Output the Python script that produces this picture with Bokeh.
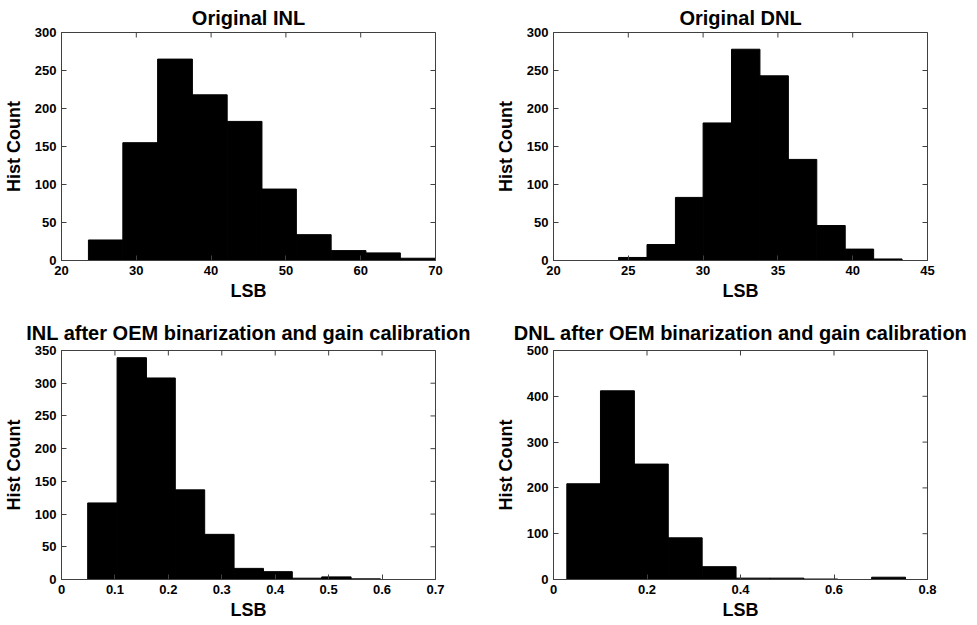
import math
from bokeh.plotting import figure
from bokeh.layouts import gridplot
from bokeh.models import Range1d, FixedTicker
from bokeh.embed import file_html
from bokeh.resources import INLINE

# ---- data ----
inl_orig_edges = [23.6, 28.2, 32.85, 37.5, 42.15, 46.8, 51.4, 56.05, 60.7, 65.3, 69.95]
inl_orig_counts = [27, 155, 265, 218, 183, 94, 34, 13, 10, 3]

dnl_orig_edges = [24.35, 26.25, 28.15, 30.0, 31.9, 33.8, 35.7, 37.6, 39.5, 41.4, 43.3]
dnl_orig_counts = [4, 21, 83, 181, 278, 243, 133, 46, 15, 2]

inl_cal_edges = [0.049, 0.104, 0.159, 0.213, 0.268, 0.323, 0.378, 0.432, 0.487, 0.542, 0.597]
inl_cal_counts = [117, 339, 308, 137, 69, 17, 12, 2, 4, 1]

dnl_cal_edges = [0.0285, 0.1005, 0.173, 0.2455, 0.318, 0.3905, 0.463, 0.5355, 0.608, 0.6805, 0.753]
dnl_cal_counts = [209, 412, 252, 91, 28, 3, 3, 1, 0, 5]

titles = ["Original INL", "Original DNL",
          "INL after OEM binarization and gain calibration",
          "DNL after OEM binarization and gain calibration"]

x_ticks_1 = [20, 30, 40, 50, 60, 70]
x_ticks_2 = [20, 25, 30, 35, 40, 45]
x_ticks_3 = [0, 0.1, 0.2, 0.3, 0.4, 0.5, 0.6, 0.7]
x_labels_3 = ["0", "0.1", "0.2", "0.3", "0.4", "0.5", "0.6", "0.7"]
x_ticks_4 = [0, 0.2, 0.4, 0.6, 0.8]
x_labels_4 = ["0", "0.2", "0.4", "0.6", "0.8"]
y_ticks_1 = [0, 50, 100, 150, 200, 250, 300]
y_ticks_3 = [0, 50, 100, 150, 200, 250, 300, 350]
y_ticks_4 = [0, 100, 200, 300, 400, 500]

FONT = "Liberation Sans"
FRAME = "#404040"


def make(title, edges, counts, xr, yr, xt, yt, xlabels, width, height, bl, br, bt, bb,
         standoff):
    p = figure(width=width, height=height, output_backend="svg", toolbar_location=None,
               x_range=Range1d(*xr), y_range=Range1d(*yr),
               min_border_left=bl, min_border_right=br, min_border_top=bt, min_border_bottom=bb,
               x_axis_label="LSB", y_axis_label="Hist Count")
    p.quad(left=edges[:-1], right=edges[1:], bottom=0, top=counts,
           fill_color="black", line_color="black", line_width=1)

    # inward ticks on the top and right edges of the box (half of each dash is clipped)
    p.scatter(x=xt, y=[yr[1]] * len(xt), marker="dash", size=10, angle=math.pi / 2,
              line_color=FRAME, line_width=1)
    p.scatter(x=[xr[1]] * len(yt), y=yt, marker="dash", size=10,
              line_color=FRAME, line_width=1)

    p.title.text = title
    p.title.align = "center"
    p.title.text_font = FONT
    p.title.text_font_style = "bold"
    p.title.text_font_size = "20px"
    p.title.text_color = "black"
    p.title.standoff = standoff
    p.xgrid.visible = False
    p.ygrid.visible = False
    p.outline_line_color = FRAME
    p.outline_line_width = 1
    p.background_fill_color = "white"
    p.border_fill_color = "white"

    for ax in (p.xaxis[0], p.yaxis[0]):
        ax.axis_line_color = FRAME
        ax.major_tick_line_color = FRAME
        ax.major_tick_in = 5
        ax.major_tick_out = 0
        ax.minor_tick_line_color = None
        ax.major_label_text_font = FONT
        ax.major_label_text_font_style = "bold"
        ax.major_label_text_font_size = "13px"
        ax.major_label_text_color = "black"
        ax.axis_label_text_font = FONT
        ax.axis_label_text_font_style = "bold"
        ax.axis_label_text_font_size = "18px"
        ax.axis_label_text_color = "black"
    p.xaxis[0].ticker = FixedTicker(ticks=xt)
    p.yaxis[0].ticker = FixedTicker(ticks=yt)
    if xlabels is not None:
        p.xaxis[0].major_label_overrides = {t: s for t, s in zip(xt, xlabels)}
    p.xaxis[0].major_label_standoff = 5
    p.xaxis[0].axis_label_standoff = 3
    p.yaxis[0].major_label_standoff = 5
    p.yaxis[0].axis_label_standoff = 8
    return p


p1 = make(titles[0], inl_orig_edges, inl_orig_counts, (20, 70), (0, 300),
          x_ticks_1, y_ticks_1, None, 488, 310, 61, 53, 32, 50, 8)
p2 = make(titles[1], dnl_orig_edges, dnl_orig_counts, (20, 45), (0, 300),
          x_ticks_2, y_ticks_1, None, 489, 310, 65, 50, 32, 50, 8)
p3 = make(titles[2], inl_cal_edges, inl_cal_counts, (0, 0.7), (0, 350),
          x_ticks_3, y_ticks_3, x_labels_3, 488, 315, 60, 53, 40, 46, 14)
p4 = make(titles[3], dnl_cal_edges, dnl_cal_counts, (0, 0.8), (0, 500),
          x_ticks_4, y_ticks_4, x_labels_4, 489, 315, 65, 50, 40, 46, 14)

grid = gridplot([[p1, p2], [p3, p4]], toolbar_location=None)

open("out.html", "w").write(file_html(grid, INLINE))
